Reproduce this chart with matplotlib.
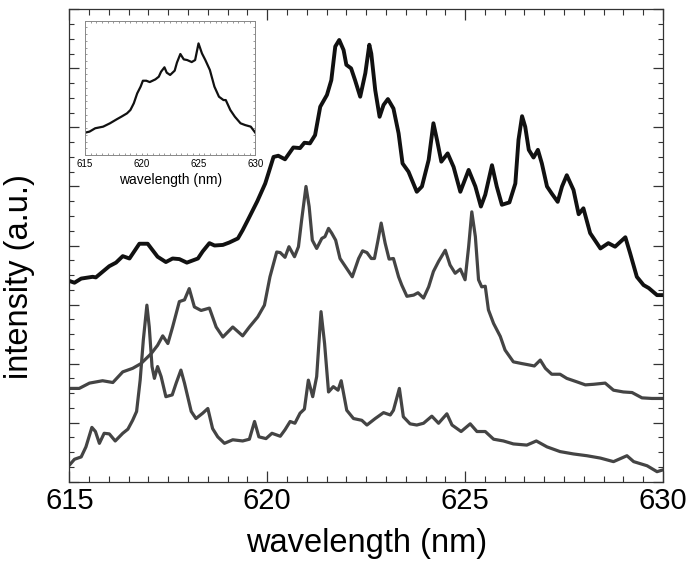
import matplotlib
matplotlib.use("Agg")
import matplotlib.pyplot as plt
from matplotlib.ticker import MultipleLocator, NullFormatter

plt.rcParams['font.family'] = ['Liberation Sans', 'DejaVu Sans']

# ---- data ----
top_wl = [615.00, 615.13, 615.30, 615.59, 615.67, 616.01, 616.18, 616.35, 616.52, 616.77,
          616.98, 617.23, 617.44, 617.61, 617.78, 617.97, 618.25, 618.37, 618.54, 618.67,
          618.88, 619.04, 619.26, 619.38, 619.51, 619.75, 619.95, 620.03, 620.16, 620.28,
          620.45, 620.66, 620.83, 620.94, 621.08, 621.21, 621.34, 621.51, 621.62, 621.72,
          621.82, 621.93, 622.00, 622.12, 622.22, 622.35, 622.48, 622.58, 622.63, 622.73,
          622.84, 622.94, 623.05, 623.19, 623.32, 623.42, 623.57, 623.78, 623.91, 624.08,
          624.20, 624.29, 624.40, 624.56, 624.71, 624.88, 625.09, 625.26, 625.40, 625.51,
          625.68, 625.80, 625.93, 626.12, 626.27, 626.35, 626.44, 626.52, 626.61, 626.73,
          626.84, 626.94, 627.07, 627.19, 627.34, 627.45, 627.57, 627.74, 627.87, 627.99,
          628.16, 628.42, 628.62, 628.79, 629.05, 629.17, 629.34, 629.51, 629.64, 629.85,
          630.00]
top_int = [3.40, 3.37, 3.44, 3.47, 3.46, 3.65, 3.71, 3.82, 3.78, 4.03,
           4.03, 3.81, 3.72, 3.78, 3.77, 3.71, 3.78, 3.90, 4.04, 4.00,
           4.01, 4.05, 4.12, 4.26, 4.43, 4.75, 5.05, 5.22, 5.50, 5.52,
           5.46, 5.66, 5.65, 5.74, 5.73, 5.87, 6.35, 6.55, 6.80, 7.37,
           7.48, 7.31, 7.06, 7.00, 6.80, 6.52, 6.92, 7.40, 7.25, 6.63,
           6.18, 6.38, 6.48, 6.32, 5.90, 5.39, 5.25, 4.91, 5.00, 5.45,
           6.07, 5.79, 5.42, 5.56, 5.33, 4.91, 5.28, 5.00, 4.66, 4.86,
           5.36, 5.00, 4.69, 4.73, 5.05, 5.79, 6.19, 6.01, 5.62, 5.49,
           5.62, 5.39, 5.00, 4.88, 4.74, 5.00, 5.19, 4.94, 4.53, 4.63,
           4.21, 3.95, 4.04, 3.98, 4.14, 3.87, 3.47, 3.33, 3.28, 3.16,
           3.16]

mid_wl = [615.00, 615.25, 615.51, 615.84, 616.10, 616.35, 616.60, 616.81, 617.07, 617.23,
          617.36, 617.49, 617.61, 617.78, 617.91, 618.03, 618.16, 618.33, 618.54, 618.71,
          618.88, 619.13, 619.38, 619.55, 619.76, 619.93, 620.07, 620.24, 620.33, 620.45,
          620.55, 620.69, 620.79, 620.87, 620.98, 621.06, 621.14, 621.25, 621.38, 621.46,
          621.55, 621.63, 621.73, 621.84, 622.01, 622.15, 622.31, 622.41, 622.52, 622.63,
          622.71, 622.80, 622.88, 622.98, 623.08, 623.19, 623.32, 623.40, 623.53, 623.70,
          623.81, 623.95, 624.08, 624.20, 624.33, 624.50, 624.62, 624.75, 624.88, 625.00,
          625.09, 625.17, 625.26, 625.34, 625.42, 625.51, 625.59, 625.72, 625.89, 626.01,
          626.22, 626.44, 626.60, 626.75, 626.90, 627.03, 627.19, 627.40, 627.57, 627.83,
          628.04, 628.25, 628.54, 628.75, 629.00, 629.22, 629.47, 629.72, 630.00]
mid_int = [1.58, 1.58, 1.67, 1.71, 1.68, 1.86, 1.92, 2.00, 2.17, 2.31,
           2.47, 2.34, 2.62, 3.05, 3.08, 3.27, 2.96, 2.90, 2.94, 2.62,
           2.45, 2.62, 2.47, 2.62, 2.79, 2.99, 3.47, 3.89, 3.88, 3.80,
           3.98, 3.81, 3.98, 4.43, 5.00, 4.66, 4.09, 3.95, 4.12, 4.15,
           4.29, 4.21, 4.09, 3.78, 3.61, 3.47, 3.78, 3.91, 3.88, 3.78,
           3.78, 4.09, 4.38, 4.04, 3.77, 3.78, 3.47, 3.33, 3.14, 3.16,
           3.20, 3.11, 3.30, 3.56, 3.73, 3.92, 3.67, 3.53, 3.60, 3.42,
           3.98, 4.57, 4.15, 3.42, 3.30, 3.31, 2.91, 2.68, 2.46, 2.23,
           2.03, 2.00, 1.98, 1.96, 2.06, 1.92, 1.82, 1.82, 1.75, 1.69,
           1.64, 1.65, 1.67, 1.55, 1.52, 1.51, 1.42, 1.41, 1.41]

bot_wl = [615.00, 615.13, 615.30, 615.42, 615.57, 615.66, 615.76, 615.88, 616.01, 616.16,
          616.35, 616.48, 616.60, 616.70, 616.79, 616.87, 616.96, 617.02, 617.09, 617.15,
          617.23, 617.32, 617.44, 617.60, 617.70, 617.82, 617.91, 618.08, 618.20, 618.37,
          618.50, 618.62, 618.75, 618.92, 619.13, 619.38, 619.55, 619.68, 619.79, 619.97,
          620.12, 620.33, 620.45, 620.58, 620.70, 620.83, 620.94, 621.04, 621.15, 621.25,
          621.36, 621.45, 621.55, 621.67, 621.79, 621.87, 622.01, 622.18, 622.39, 622.52,
          622.73, 622.94, 623.11, 623.19, 623.34, 623.44, 623.61, 623.78, 623.95, 624.16,
          624.33, 624.54, 624.67, 624.90, 625.13, 625.30, 625.51, 625.72, 625.97, 626.22,
          626.56, 626.80, 627.07, 627.40, 627.74, 628.08, 628.42, 628.75, 629.09, 629.26,
          629.60, 629.85, 630.00]
bot_int = [0.28, 0.38, 0.42, 0.59, 0.92, 0.85, 0.65, 0.82, 0.81, 0.69,
           0.82, 0.89, 1.04, 1.19, 1.72, 2.40, 2.99, 2.62, 1.95, 1.75,
           1.95, 1.78, 1.44, 1.47, 1.67, 1.89, 1.67, 1.19, 1.07, 1.16,
           1.24, 0.90, 0.76, 0.65, 0.71, 0.69, 0.72, 1.02, 0.76, 0.73,
           0.82, 0.77, 0.88, 1.02, 0.99, 1.16, 1.23, 1.72, 1.44, 1.78,
           2.88, 2.34, 1.52, 1.61, 1.55, 1.71, 1.21, 1.07, 1.04, 0.96,
           1.07, 1.17, 1.13, 1.21, 1.58, 1.10, 0.98, 0.96, 0.99, 1.11,
           0.99, 1.15, 0.96, 0.85, 0.98, 0.85, 0.85, 0.72, 0.69, 0.64,
           0.62, 0.69, 0.59, 0.51, 0.47, 0.44, 0.40, 0.34, 0.44, 0.34,
           0.27, 0.17, 0.20]

inset_wl = [615.0, 615.4, 615.9, 616.6, 617.2, 617.8, 618.2, 618.7, 619.0, 619.3,
            619.6, 619.9, 620.1, 620.4, 620.7, 621.2, 621.5, 621.7, 622.0, 622.2,
            622.5, 622.9, 623.1, 623.4, 623.7, 624.0, 624.4, 624.7, 625.0, 625.3,
            625.6, 626.0, 626.4, 626.8, 627.2, 627.4, 627.6, 627.8, 628.2, 628.7,
            629.1, 629.6, 630.0]
inset_int = [0.166, 0.174, 0.199, 0.211, 0.236, 0.266, 0.285, 0.310, 0.335, 0.385,
             0.459, 0.509, 0.553, 0.553, 0.543, 0.563, 0.583, 0.620, 0.653, 0.613,
             0.596, 0.628, 0.688, 0.752, 0.712, 0.707, 0.692, 0.707, 0.831, 0.757,
             0.707, 0.633, 0.509, 0.434, 0.409, 0.409, 0.372, 0.335, 0.285, 0.236,
             0.223, 0.211, 0.166]

xticks_main = [615, 620, 625, 630]

# ---- figure ----
fig = plt.figure(figsize=(6.87, 5.64), dpi=100)
ax = fig.add_axes([0.1009, 0.1459, 0.8641, 0.8376])

ax.plot(top_wl, top_int, color='#111111', lw=2.8, solid_joinstyle='round', solid_capstyle='round')
ax.plot(mid_wl, mid_int, color='#444444', lw=2.3, solid_joinstyle='round')
ax.plot(bot_wl, bot_int, color='#444444', lw=2.3, solid_joinstyle='round')

ax.set_xlim(615, 630)
ax.set_ylim(0, 8)
ax.set_xticks(xticks_main)
ax.xaxis.set_minor_locator(MultipleLocator(0.5))
ax.yaxis.set_major_locator(MultipleLocator(1))
ax.yaxis.set_minor_locator(MultipleLocator(0.25))
ax.yaxis.set_major_formatter(NullFormatter())
ax.tick_params(which='both', direction='in', top=True, right=True, color='#333333')
ax.tick_params(axis='x', which='major', length=7.7, width=0.9, labelsize=21, pad=3.5)
ax.tick_params(axis='x', which='minor', length=4, width=0.8)
ax.tick_params(axis='y', which='major', length=7, width=0.9)
ax.tick_params(axis='y', which='minor', length=3.8, width=0.8)
for s in ax.spines.values():
    s.set_color('#333333')
    s.set_linewidth(0.9)
ax.set_xlabel('wavelength (nm)', fontsize=23.5, labelpad=10)
ax.set_ylabel('intensity (a.u.)', fontsize=23.5)
ax.yaxis.set_label_coords(-0.058, 0.435)

# ---- inset ----
ins = fig.add_axes([0.1237, 0.7252, 0.2479, 0.2381])
ins.plot(inset_wl, inset_int, color='#111111', lw=1.6, solid_joinstyle='round')
ins.set_xlim(615, 630)
ins.set_ylim(0, 1)
ins.set_xticks(xticks_main)
ins.xaxis.set_minor_locator(MultipleLocator(0.5))
ins.yaxis.set_major_locator(MultipleLocator(0.25))
ins.yaxis.set_minor_locator(MultipleLocator(0.05))
ins.yaxis.set_major_formatter(NullFormatter())
ins.tick_params(which='both', direction='in', top=True, right=True, color='#888888',
                length=1.5, width=0.6, labelsize=7, pad=3)
for s in ins.spines.values():
    s.set_color('#888888')
    s.set_linewidth(0.7)
ins.set_xlabel('wavelength (nm)', fontsize=10, labelpad=3)

fig.savefig('out.png', dpi=100)
